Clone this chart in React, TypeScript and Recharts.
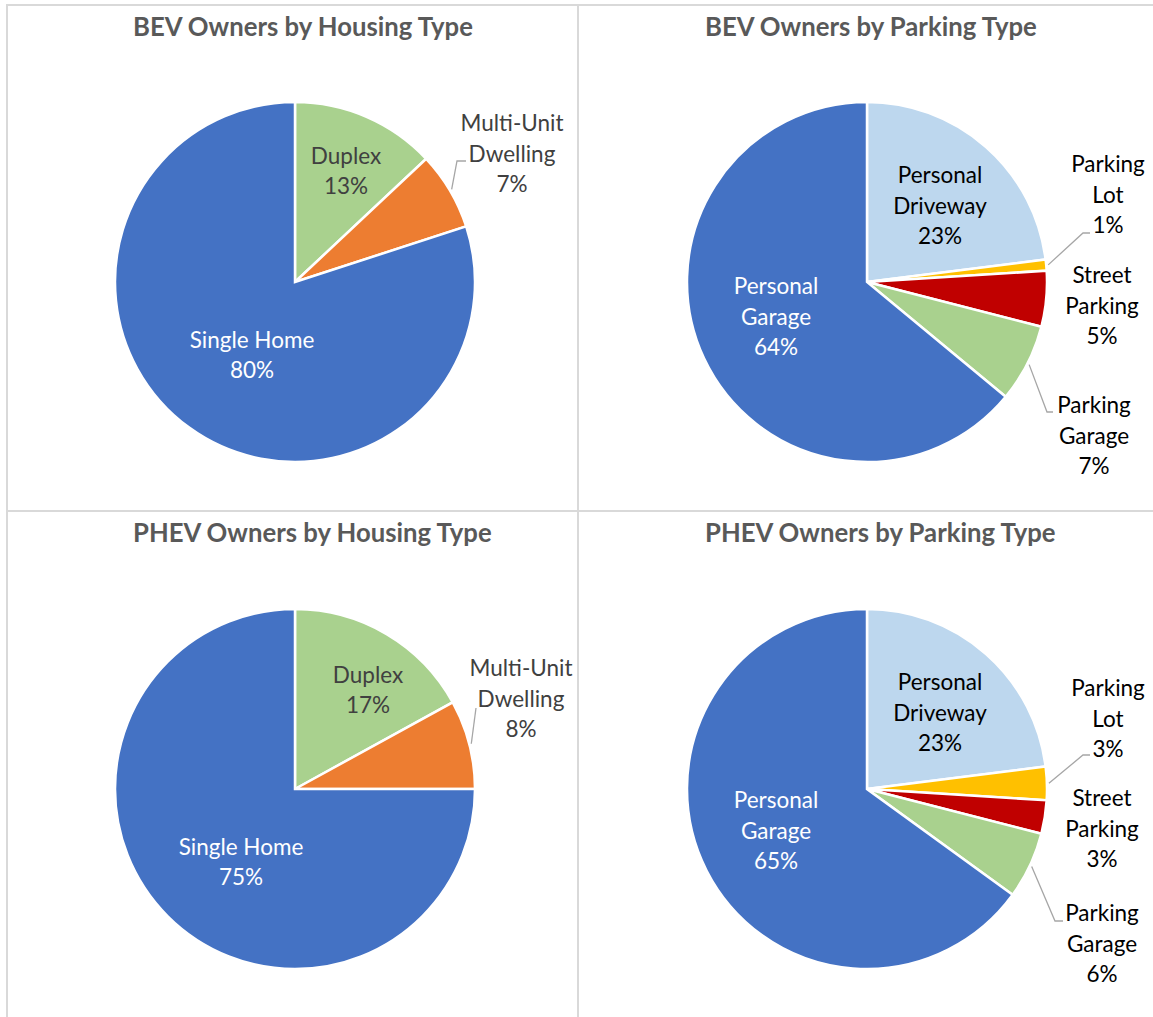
import React from 'react';
import { PieChart, Pie, Cell } from 'recharts';

// categories ("\n" marks where the data label wraps)
const housingTypes = ['Duplex', 'Multi-Unit\nDwelling', 'Single Home'];
const parkingTypes = ['Personal\nDriveway', 'Parking\nLot', 'Street\nParking', 'Parking\nGarage', 'Personal\nGarage'];

// shares in %
const bevHousing = [13, 7, 80];
const phevHousing = [17, 8, 75];
const bevParking = [23, 1, 5, 7, 64];
const phevParking = [23, 3, 3, 6, 65];

const housingColors = ['#A9D18E', '#ED7D31', '#4472C4'];
const parkingColors = ['#BDD7EE', '#FFC000', '#C00000', '#A9D18E', '#4472C4'];

type Spot = { at: [number, number]; elbow?: [number, number]; tail?: number; fill?: string };

// label placement, offsets from the pie centre
const bevHousingSpots: Record<string, Spot> = {
    'Duplex': { at: [51, -111] },
    'Multi-Unit\nDwelling': { at: [217, -128], elbow: [162, -121], tail: 9 },
    'Single Home': { at: [-43, 73], fill: '#fff' },
};
const phevHousingSpots: Record<string, Spot> = {
    'Duplex': { at: [73, -99] },
    'Multi-Unit\nDwelling': { at: [226, -90], elbow: [181, -81], tail: 0 },
    'Single Home': { at: [-54, 73], fill: '#fff' },
};
const bevParkingSpots: Record<string, Spot> = {
    'Personal\nDriveway': { at: [73, -76] },
    'Parking\nLot': { at: [241, -87], elbow: [216, -49], tail: 7 },
    'Street\nParking': { at: [235, 24] },
    'Parking\nGarage': { at: [227, 154], elbow: [180, 130], tail: 6 },
    'Personal\nGarage': { at: [-91, 35], fill: '#fff' },
};
const phevParkingSpots: Record<string, Spot> = {
    'Personal\nDriveway': { at: [73, -76] },
    'Parking\nLot': { at: [241, -70], elbow: [216, -34], tail: 7 },
    'Street\nParking': { at: [235, 40] },
    'Parking\nGarage': { at: [235, 155], elbow: [188, 132], tail: 8 },
    'Personal\nGarage': { at: [-91, 42], fill: '#fff' },
};

const FONT = 'Lato, "Open Sans", sans-serif';
const RAD = Math.PI / 180;

const makeLabel = (spots: Record<string, Spot>, ink: string) => (props: any) => {
    const { cx, cy, midAngle, outerRadius, name, percent } = props;
    const spot = spots[name];
    if (!spot) return null;
    const lines = [...String(name).split('\n'), `${Math.round(percent * 100)}%`];
    const lh = 30.5;
    const x = cx + spot.at[0];
    const top = cy + spot.at[1] - ((lines.length - 1) * lh) / 2;
    let leader = null;
    if (spot.elbow) {
        const r = outerRadius + 2;
        const sx = cx + r * Math.cos(-midAngle * RAD);
        const sy = cy + r * Math.sin(-midAngle * RAD);
        const ex = cx + spot.elbow[0];
        const ey = cy + spot.elbow[1];
        leader = (
            <polyline
                points={`${sx},${sy} ${ex},${ey} ${ex + (spot.tail || 0)},${ey}`}
                fill="none"
                stroke="#A6A6A6"
                strokeWidth={1.3}
            />
        );
    }
    return (
        <g>
            {leader}
            <text textAnchor="middle" fill={spot.fill ?? ink} fontSize={22.5} fontFamily={FONT}>
                {lines.map((l, i) => (
                    <tspan key={i} x={x} y={top + i * lh} dy="0.35em">{l}</tspan>
                ))}
            </text>
        </g>
    );
};

interface PanelProps {
    left: number;
    top: number;
    width: number;
    height: number;
    title: string;
    names: string[];
    values: number[];
    colors: string[];
    spots: Record<string, Spot>;
    ink: string;
    cx: number;
    cy: number;
    titleX: number;
}

const Panel: React.FC<PanelProps> = ({ left, top, width, height, title, names, values, colors, spots, ink, cx, cy, titleX }) => {
    const data = names.map((name, i) => ({ name, value: values[i] }));
    return (
        <div style={{ position: 'absolute', left, top, width, height }}>
            <div
                style={{
                    position: 'absolute',
                    left: titleX,
                    top: 9,
                    fontFamily: FONT,
                    fontWeight: 'bold',
                    fontSize: 25.7,
                    lineHeight: 1,
                    color: '#595959',
                    whiteSpace: 'nowrap',
                }}
            >
                {title}
            </div>
            <PieChart width={width} height={height} margin={{ top: 0, right: 0, bottom: 0, left: 0 }}>
                <Pie
                    data={data}
                    dataKey="value"
                    nameKey="name"
                    cx={cx}
                    cy={cy}
                    outerRadius={180}
                    startAngle={90}
                    endAngle={-270}
                    stroke="#ffffff"
                    strokeWidth={2.5}
                    labelLine={false}
                    label={makeLabel(spots, ink)}
                    isAnimationActive={false}
                >
                    {data.map((d, i) => (
                        <Cell key={d.name} fill={colors[i]} />
                    ))}
                </Pie>
            </PieChart>
        </div>
    );
};

const line = '#D9D9D9';

const App: React.FC = () => {
    return (
        <div style={{ position: 'absolute', left: 0, top: 0, width: 1153, height: 1017, overflow: 'hidden', background: '#fff' }}>
            <Panel left={7} top={5} width={571} height={506} title="BEV Owners by Housing Type"
                names={housingTypes} values={bevHousing} colors={housingColors} spots={bevHousingSpots}
                ink="#404040" cx={288} cy={277} titleX={126} />
            <Panel left={578} top={5} width={575} height={506} title="BEV Owners by Parking Type"
                names={parkingTypes} values={bevParking} colors={parkingColors} spots={bevParkingSpots}
                ink="#000000" cx={289} cy={277} titleX={127} />
            <Panel left={7} top={511} width={571} height={506} title="PHEV Owners by Housing Type"
                names={housingTypes} values={phevHousing} colors={housingColors} spots={phevHousingSpots}
                ink="#404040" cx={288} cy={278} titleX={126} />
            <Panel left={578} top={511} width={575} height={506} title="PHEV Owners by Parking Type"
                names={parkingTypes} values={phevParking} colors={parkingColors} spots={phevParkingSpots}
                ink="#000000" cx={289} cy={278} titleX={127} />
            {/* panel frames */}
            <div style={{ position: 'absolute', left: 7, top: 4, width: 1146, height: 2, background: line }} />
            <div style={{ position: 'absolute', left: 6, top: 4, width: 2, height: 1013, background: line }} />
            <div style={{ position: 'absolute', left: 577, top: 4, width: 2, height: 1013, background: line }} />
            <div style={{ position: 'absolute', left: 7, top: 510, width: 1146, height: 2, background: line }} />
        </div>
    );
};

export default App;
